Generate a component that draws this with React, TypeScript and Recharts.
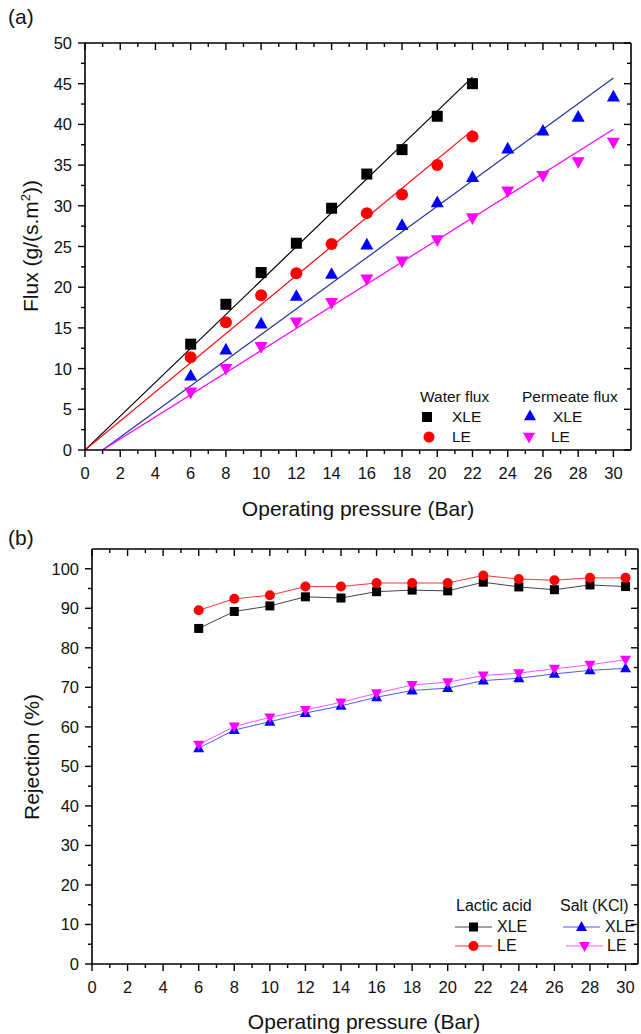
import React from 'react';
import { ComposedChart, Line, Scatter, XAxis, YAxis } from 'recharts';

// ---------- Data: panel (a) ----------
const waterPressure = [6, 8, 10, 12, 14, 16, 18, 20, 22];
const permeatePressure = [6, 8, 10, 12, 14, 16, 18, 20, 22, 24, 26, 28, 30];
const waterFluxXLE = [13.0, 17.9, 21.8, 25.4, 29.7, 33.9, 36.9, 41.0, 45.0];
const waterFluxLE = [11.4, 15.7, 19.0, 21.7, 25.3, 29.1, 31.4, 35.0, 38.5];
const permeateFluxXLE = [9.1, 12.3, 15.5, 18.9, 21.6, 25.2, 27.6, 30.4, 33.5, 37.0, 39.2, 40.9, 43.4];
const permeateFluxLE = [7.1, 10.0, 12.7, 15.7, 18.1, 21.0, 23.2, 25.8, 28.5, 31.8, 33.7, 35.4, 37.8];
// linear fits (start / end)
const fitWaterX = [0, 22];
const fitWaterXLE = [0, 45.8];
const fitWaterLE = [0, 39.3];
const fitPermeateX = [1, 30];
const fitPermeateXLE = [0, 45.7];
const fitPermeateLE = [0, 39.4];

// ---------- Data: panel (b) ----------
const rejectionPressure = [6, 8, 10, 12, 14, 16, 18, 20, 22, 24, 26, 28, 30];
const lacticXLE = [84.9, 89.2, 90.6, 92.9, 92.6, 94.2, 94.6, 94.4, 96.6, 95.4, 94.7, 95.9, 95.5];
const lacticLE = [89.5, 92.4, 93.3, 95.5, 95.5, 96.4, 96.4, 96.4, 98.3, 97.4, 97.1, 97.7, 97.7];
const saltXLE = [54.6, 59.2, 61.3, 63.5, 65.3, 67.5, 69.2, 69.8, 71.7, 72.3, 73.4, 74.3, 74.8];
const saltLE = [55.5, 60.1, 62.4, 64.3, 66.2, 68.5, 70.6, 71.3, 73.0, 73.6, 74.7, 75.7, 77.0];

// ---------- Ticks ----------
const xTicksA = Array.from({ length: 31 }, (_, i) => i);
const yTicksA = Array.from({ length: 21 }, (_, i) => i * 2.5);
const xTicksB = Array.from({ length: 31 }, (_, i) => i);
const yTicksB = Array.from({ length: 21 }, (_, i) => i * 5);

const pts = (xs: number[], ys: number[]) => xs.map((x, i) => ({ x, y: ys[i] }));

const FONT = '"Liberation Sans", Arial, sans-serif';
const TICK_FS = 16.5;
const isMajor = (v: number, every: number) => Math.abs(v / every - Math.round(v / every)) < 1e-6;

const makeXTick = (every: number, label: boolean) => (props: any) => {
  const { x, y, payload } = props;
  const v = payload.value;
  const major = isMajor(v, every);
  const len = major ? 7 : 4;
  return (
    <g>
      <line x1={x} x2={x} y1={y} y2={y + len} stroke="#000" strokeWidth={1.4} />
      {label && major ? (
        <text x={x} y={y + 29} textAnchor="middle" fontSize={TICK_FS} fontFamily={FONT} fill="#111">
          {v}
        </text>
      ) : null}
    </g>
  );
};

const makeYTick = (every: number, label: boolean) => (props: any) => {
  const { x, y, payload } = props;
  const v = payload.value;
  const major = isMajor(v, every);
  const len = major ? 7 : 4;
  return (
    <g>
      <line x1={x} x2={x - len} y1={y} y2={y} stroke="#000" strokeWidth={1.4} />
      {label && major ? (
        <text x={x - 13} y={y + 6} textAnchor="end" fontSize={TICK_FS} fontFamily={FONT} fill="#111">
          {v}
        </text>
      ) : null}
    </g>
  );
};

// ---------- Marker shapes ----------
const Square = ({ cx, cy, s = 11, color = '#000' }: any) => (
  <rect x={cx - s / 2} y={cy - s / 2} width={s} height={s} fill={color} />
);
const Circle = ({ cx, cy, s = 12, color = '#ff0000' }: any) => <circle cx={cx} cy={cy} r={s / 2} fill={color} />;
const TriUp = ({ cx, cy, s = 13, color = '#0000ff' }: any) => {
  const h = s * 0.9;
  return <polygon points={`${cx},${cy - h * 0.6} ${cx - s / 2},${cy + h * 0.4} ${cx + s / 2},${cy + h * 0.4}`} fill={color} />;
};
const TriDown = ({ cx, cy, s = 13, color = '#ff00ff' }: any) => {
  const h = s * 0.9;
  return <polygon points={`${cx},${cy + h * 0.6} ${cx - s / 2},${cy - h * 0.4} ${cx + s / 2},${cy - h * 0.4}`} fill={color} />;
};

const Sym = ({ kind, size, color, line, w = 20, lineColor }: any) => {
  const h = 16;
  const cx = w / 2;
  const cy = h / 2;
  return (
    <svg width={w} height={h} style={{ display: 'block' }}>
      {line ? <line x1={0} x2={w} y1={cy} y2={cy} stroke={lineColor || color} strokeWidth={1} /> : null}
      {kind === 'sq' && <Square cx={cx} cy={cy} s={size} color={color} />}
      {kind === 'ci' && <Circle cx={cx} cy={cy} s={size} color={color} />}
      {kind === 'up' && <TriUp cx={cx} cy={cy} s={size} color={color} />}
      {kind === 'dn' && <TriDown cx={cx} cy={cy} s={size} color={color} />}
    </svg>
  );
};

const abs = (left: number, top: number, extra: any = {}) => ({ position: 'absolute' as const, left, top, ...extra });

const Txt = ({ x, y, size = 14, children, anchor = 'left' }: any) => (
  <div
    style={{
      position: 'absolute',
      left: x,
      top: y,
      fontSize: size,
      lineHeight: 1,
      whiteSpace: 'nowrap',
      transform: `translate(${anchor === 'center' ? '-50%' : '0'}, -50%)`,
      color: '#111',
    }}
  >
    {children}
  </div>
);

const LEG_FS = 15.5;
const TITLE_FS = 21;

export default function App() {
  const dataAxis = { type: 'number' as const, dataKey: 'x' };
  return (
    <div style={{ position: 'absolute', left: 0, top: 0, width: 641, height: 1034, background: '#fff', fontFamily: FONT, overflow: 'hidden' }}>
      {/* ---------- Panel (a) ---------- */}
      <div style={abs(0, 0)}>
        <ComposedChart width={641} height={530} margin={{ top: 42, right: 9, bottom: 50, left: 45 }}>
          <XAxis xAxisId="b" {...dataAxis} domain={[0, 31]} ticks={xTicksA} interval={0} height={30}
            tickSize={0} tickMargin={0} tickLine={false} tick={makeXTick(2, true)} axisLine={{ stroke: '#000', strokeWidth: 1.6 }} allowDataOverflow />
          <XAxis xAxisId="t" orientation="top" {...dataAxis} domain={[0, 31]} ticks={xTicksA} interval={0} height={1}
            tickSize={0} tickMargin={0} tickLine={false} tick={makeXTick(2, false)} axisLine={{ stroke: '#000', strokeWidth: 1.6 }} allowDataOverflow />
          <YAxis yAxisId="l" type="number" domain={[0, 50]} ticks={yTicksA} interval={0} width={40}
            tickSize={0} tickMargin={0} tickLine={false} tick={makeYTick(5, true)} axisLine={{ stroke: '#000', strokeWidth: 1.6 }} allowDataOverflow />
          <YAxis yAxisId="r" orientation="right" type="number" domain={[0, 50]} ticks={yTicksA} interval={0} width={1}
            tickSize={0} tickMargin={0} tickLine={false} tick={makeYTick(5, false)} axisLine={{ stroke: '#000', strokeWidth: 1.6 }} allowDataOverflow />

          <Line xAxisId="b" yAxisId="l" data={pts(fitWaterX, fitWaterXLE)} dataKey="y" stroke="#000" strokeWidth={1.2} dot={false} isAnimationActive={false} />
          <Line xAxisId="b" yAxisId="l" data={pts(fitWaterX, fitWaterLE)} dataKey="y" stroke="#ff0000" strokeWidth={1.2} dot={false} isAnimationActive={false} />
          <Line xAxisId="b" yAxisId="l" data={pts(fitPermeateX, fitPermeateXLE)} dataKey="y" stroke="#23339c" strokeWidth={1.2} dot={false} isAnimationActive={false} />
          <Line xAxisId="b" yAxisId="l" data={pts(fitPermeateX, fitPermeateLE)} dataKey="y" stroke="#ff00ff" strokeWidth={1.2} dot={false} isAnimationActive={false} />

          <Scatter xAxisId="b" yAxisId="l" data={pts(waterPressure, waterFluxXLE)} dataKey="y" isAnimationActive={false}
            shape={(p: any) => <Square cx={p.cx} cy={p.cy} s={11} color="#000" />} />
          <Scatter xAxisId="b" yAxisId="l" data={pts(waterPressure, waterFluxLE)} dataKey="y" isAnimationActive={false}
            shape={(p: any) => <Circle cx={p.cx} cy={p.cy} s={12} color="#ff0000" />} />
          <Scatter xAxisId="b" yAxisId="l" data={pts(permeatePressure, permeateFluxXLE)} dataKey="y" isAnimationActive={false}
            shape={(p: any) => <TriUp cx={p.cx} cy={p.cy} s={13} color="#0000ff" />} />
          <Scatter xAxisId="b" yAxisId="l" data={pts(permeatePressure, permeateFluxLE)} dataKey="y" isAnimationActive={false}
            shape={(p: any) => <TriDown cx={p.cx} cy={p.cy} s={13} color="#ff00ff" />} />
        </ComposedChart>
      </div>

      {/* ---------- Panel (b) ---------- */}
      <div style={abs(0, 530)}>
        <ComposedChart width={641} height={504} margin={{ top: 18, right: 2, bottom: 40, left: 52 }}>
          <XAxis xAxisId="b" {...dataAxis} domain={[0, 30.7]} ticks={xTicksB} interval={0} height={30}
            tickSize={0} tickMargin={0} tickLine={false} tick={makeXTick(2, true)} axisLine={{ stroke: '#000', strokeWidth: 1.6 }} allowDataOverflow />
          <XAxis xAxisId="t" orientation="top" {...dataAxis} domain={[0, 30.7]} ticks={xTicksB} interval={0} height={1}
            tickSize={0} tickMargin={0} tickLine={false} tick={makeXTick(2, false)} axisLine={{ stroke: '#000', strokeWidth: 1.6 }} allowDataOverflow />
          <YAxis yAxisId="l" type="number" domain={[0, 105]} ticks={yTicksB} interval={0} width={40}
            tickSize={0} tickMargin={0} tickLine={false} tick={makeYTick(10, true)} axisLine={{ stroke: '#000', strokeWidth: 1.6 }} allowDataOverflow />
          <YAxis yAxisId="r" orientation="right" type="number" domain={[0, 105]} ticks={yTicksB} interval={0} width={1}
            tickSize={0} tickMargin={0} tickLine={false} tick={makeYTick(10, false)} axisLine={{ stroke: '#000', strokeWidth: 1.6 }} allowDataOverflow />

          <Line xAxisId="b" yAxisId="l" data={pts(rejectionPressure, lacticXLE)} dataKey="y" stroke="#444" strokeWidth={1} isAnimationActive={false}
            dot={(p: any) => <Square key={`a${p.index}`} cx={p.cx} cy={p.cy} s={9} color="#000" />} />
          <Line xAxisId="b" yAxisId="l" data={pts(rejectionPressure, lacticLE)} dataKey="y" stroke="#ff3333" strokeWidth={1} isAnimationActive={false}
            dot={(p: any) => <Circle key={`b${p.index}`} cx={p.cx} cy={p.cy} s={10} color="#ff0000" />} />
          <Line xAxisId="b" yAxisId="l" data={pts(rejectionPressure, saltXLE)} dataKey="y" stroke="#5555ff" strokeWidth={1} isAnimationActive={false}
            dot={(p: any) => <TriUp key={`c${p.index}`} cx={p.cx} cy={p.cy} s={11} color="#0000ff" />} />
          <Line xAxisId="b" yAxisId="l" data={pts(rejectionPressure, saltLE)} dataKey="y" stroke="#ff55ff" strokeWidth={1} isAnimationActive={false}
            dot={(p: any) => <TriDown key={`d${p.index}`} cx={p.cx} cy={p.cy} s={11} color="#ff00ff" />} />
        </ComposedChart>
      </div>

      {/* ---------- Labels ---------- */}
      <Txt x={8} y={16} size={TITLE_FS}>(a)</Txt>
      <Txt x={8} y={537} size={TITLE_FS}>(b)</Txt>
      <Txt x={358} y={508} size={TITLE_FS} anchor="center">Operating pressure (Bar)</Txt>
      <Txt x={364} y={1021} size={TITLE_FS} anchor="center">Operating pressure (Bar)</Txt>
      <div style={{ position: 'absolute', left: 30, top: 246, transform: 'translate(-50%, -50%) rotate(-90deg)', fontSize: TITLE_FS, whiteSpace: 'nowrap', lineHeight: 1, color: '#111' }}>
        Flux (g/(s.m<sup style={{ fontSize: 13 }}>2</sup>))
      </div>
      <div style={{ position: 'absolute', left: 31, top: 757, transform: 'translate(-50%, -50%) rotate(-90deg)', fontSize: TITLE_FS, whiteSpace: 'nowrap', lineHeight: 1, color: '#111' }}>
        Rejection (%)
      </div>

      {/* ---------- Legend (a) ---------- */}
      <Txt x={420} y={397} size={LEG_FS}>Water flux</Txt>
      <Txt x={522} y={397} size={LEG_FS}>Permeate flux</Txt>
      <div style={abs(417, 409)}><Sym kind="sq" size={10} color="#000" /></div>
      <Txt x={452} y={417} size={LEG_FS}>XLE</Txt>
      <div style={abs(419, 429)}><Sym kind="ci" size={11} color="#ff0000" /></div>
      <Txt x={452} y={437} size={LEG_FS}>LE</Txt>
      <div style={abs(520, 408)}><Sym kind="up" size={12} color="#0000ff" /></div>
      <Txt x={553} y={417} size={LEG_FS}>XLE</Txt>
      <div style={abs(519, 429)}><Sym kind="dn" size={12} color="#ff00ff" /></div>
      <Txt x={551} y={437} size={LEG_FS}>LE</Txt>

      {/* ---------- Legend (b) ---------- */}
      <Txt x={456} y={906} size={16}>Lactic acid</Txt>
      <Txt x={560} y={906} size={16}>Salt (KCl)</Txt>
      <div style={abs(455, 919)}><Sym kind="sq" size={9} color="#000" line w={37} lineColor="#444" /></div>
      <Txt x={497} y={927} size={16}>XLE</Txt>
      <div style={abs(455, 938)}><Sym kind="ci" size={10} color="#ff0000" line w={37} lineColor="#ff3333" /></div>
      <Txt x={497} y={946} size={16}>LE</Txt>
      <div style={abs(563, 919)}><Sym kind="up" size={11} color="#0000ff" line w={37} lineColor="#5555ff" /></div>
      <Txt x={605} y={927} size={16}>XLE</Txt>
      <div style={abs(566, 938)}><Sym kind="dn" size={11} color="#ff00ff" line w={37} lineColor="#ff55ff" /></div>
      <Txt x={607} y={946} size={16}>LE</Txt>
    </div>
  );
}
